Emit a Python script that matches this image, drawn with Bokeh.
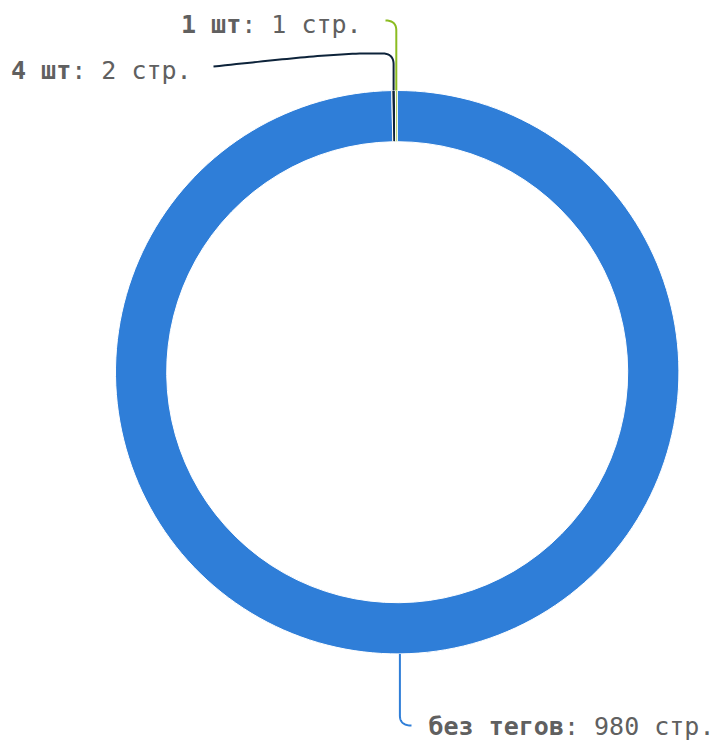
import math
import numpy as np
from bokeh.plotting import figure
from bokeh.models import Range1d
from bokeh.core.properties import value
from bokeh.embed import file_html
from bokeh.resources import INLINE

# ---- data ----
names = ["без тегов", "4 шт", "1 шт"]
counts = [980, 2, 1]
unit = "стр."
colors = ["#2f7ed8", "#0d233a", "#8bbc21"]

# ---- layout (screen px) ----
W, H = 715, 743
CX, CY = 396.7, 371.7
R_OUT, R_IN = 281.7, 230.5
FONT = "DejaVu Sans Mono"
FS = 25.0
ADV = 0.602 * FS
TEXT_COLOR = "#606060"

p = figure(width=W, height=H, output_backend="svg", toolbar_location=None,
           x_range=Range1d(0, W), y_range=Range1d(-H, 0),
           x_axis_location=None, y_axis_location=None, title=None,
           min_border=0, outline_line_color=None, background_fill_color="white",
           border_fill_color="white")
p.grid.visible = False

total = float(sum(counts))
starts, ends, mids = [], [], []
cum = 0.0
for v in counts:
    a0 = 2 * math.pi * cum / total
    a1 = 2 * math.pi * (cum + v) / total
    starts.append(math.pi / 2 - a0)
    ends.append(math.pi / 2 - a1)
    mids.append((a0 + a1) / 2)
    cum += v

p.annular_wedge(x=CX, y=-CY, inner_radius=R_IN, outer_radius=R_OUT,
                inner_radius_units="screen", outer_radius_units="screen",
                start_angle=starts, end_angle=ends, direction="clock",
                fill_color=colors, line_color="white", line_width=1)


def edge(i):
    th = mids[i]
    return CX + R_OUT * math.sin(th), CY - R_OUT * math.cos(th)


def quad(p0, c, p1, n=20):
    t = np.linspace(0, 1, n)
    x = (1 - t) ** 2 * p0[0] + 2 * (1 - t) * t * c[0] + t ** 2 * p1[0]
    y = (1 - t) ** 2 * p0[1] + 2 * (1 - t) * t * c[1] + t ** 2 * p1[1]
    return list(x), list(y)


def cubic(p0, c0, c1, p1, n=40):
    t = np.linspace(0, 1, n)
    x = ((1 - t) ** 3 * p0[0] + 3 * (1 - t) ** 2 * t * c0[0]
         + 3 * (1 - t) * t ** 2 * c1[0] + t ** 3 * p1[0])
    y = ((1 - t) ** 3 * p0[1] + 3 * (1 - t) ** 2 * t * c0[1]
         + 3 * (1 - t) * t ** 2 * c1[1] + t ** 3 * p1[1])
    return list(x), list(y)


def draw(xs, ys, color):
    p.line(xs, [-y for y in ys], line_color=color, line_width=2)


# connector: без тегов (bottom)
ex, ey = edge(0)
xs, ys = [ex, ex], [ey, 715]
qx, qy = quad((ex, 715), (ex, 725), (411, 725))
draw(xs + qx, ys + qy, colors[0])

# connector: 4 шт
ex, ey = edge(1)
xs, ys = [ex, ex], [ey, 64]
qx, qy = quad((ex, 64), (ex, 53.5), (383, 53))
cx_, cy_ = cubic((383, 53), (340, 52), (290, 58), (213, 66))
draw(xs + qx + cx_, ys + qy + cy_, colors[1])

# connector: 1 шт
ex, ey = edge(2)
xs, ys = [ex, ex], [ey, 30]
qx, qy = quad((ex, 30), (ex, 20), (385, 20))
draw(xs + qx, ys + qy, colors[2])

# labels
label_pos = [(428.0, 726.0), (10.5, 70.0), (180.5, 23.5)]
for i, (lx, ly) in enumerate(label_pos):
    bold = names[i]
    rest = f": {counts[i]} {unit}"
    p.text(x=[lx], y=[-ly], text=[bold], text_font=value(FONT),
           text_font_size=f"{FS}px", text_font_style="bold",
           text_color=TEXT_COLOR, text_align="left", text_baseline="alphabetic")
    p.text(x=[lx + len(bold) * ADV], y=[-ly], text=[rest], text_font=value(FONT),
           text_font_size=f"{FS}px", text_font_style="normal",
           text_color=TEXT_COLOR, text_align="left", text_baseline="alphabetic")

open("out.html", "w").write(file_html(p, INLINE))
